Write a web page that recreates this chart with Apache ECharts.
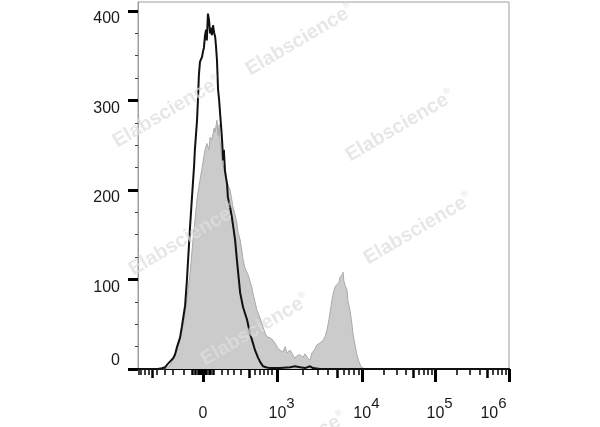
<!DOCTYPE html>
<html>
<head>
<meta charset="utf-8">
<script src="https://cdn.jsdelivr.net/npm/echarts@6/dist/echarts.min.js"></script>
<style>
html,body{margin:0;padding:0;background:#fff;}
#chart{width:600px;height:427px;}
</style>
</head>
<body>
<div id="chart"></div>
<script>
// Display channel scale (0-1024) of a biexponential axis
const blackCh = [0, 33, 55, 66, 75, 83, 88, 97, 102, 108, 116, 121, 130, 135, 138, 144, 149, 155, 157, 163, 166, 168, 171, 174, 177, 179, 182, 185, 188, 190, 193, 196, 199, 201, 204, 207, 210, 213, 215, 218, 221, 224, 226, 229, 232, 235, 237, 240, 246, 248, 254, 259, 265, 268, 273, 282, 290, 301, 309, 315, 323, 331, 337, 345, 353, 364, 392, 420, 433, 447, 461, 475, 483, 502, 1024];
const blackCount = [0, 0, 0, 1, 2, 6, 8, 12, 16, 25, 35, 47, 71, 99, 120, 161, 192, 228, 245, 278, 306, 328, 343, 345, 349, 354, 359, 373, 379, 367, 397, 390, 375, 381, 373, 384, 376, 371, 362, 345, 312, 300, 289, 273, 256, 233, 245, 222, 206, 192, 181, 170, 153, 144, 122, 85, 69, 55, 40, 32, 21, 13, 8, 3, 2, 1, 1, 2, 3, 2, 1, 3, 1, 0, 0];

const grayCh = [0, 75, 80, 88, 94, 102, 110, 116, 124, 130, 138, 144, 152, 157, 163, 171, 177, 185, 190, 196, 199, 204, 210, 213, 218, 221, 224, 226, 229, 232, 235, 240, 246, 254, 259, 262, 268, 273, 276, 282, 287, 290, 295, 304, 309, 315, 317, 323, 328, 337, 345, 351, 356, 364, 373, 381, 386, 392, 400, 406, 411, 420, 425, 433, 439, 447, 455, 461, 469, 475, 480, 486, 494, 502, 511, 516, 522, 527, 533, 538, 544, 549, 555, 557, 563, 566, 568, 571, 577, 579, 585, 591, 593, 599, 604, 610, 615, 621, 627, 1024];
const grayCount = [0, 0, 1, 4, 8, 15, 25, 33, 48, 62, 88, 108, 145, 165, 190, 211, 225, 245, 252, 245, 259, 256, 269, 265, 278, 261, 273, 256, 245, 233, 228, 217, 208, 200, 189, 181, 172, 163, 153, 144, 131, 122, 113, 105, 103, 90, 85, 75, 66, 57, 47, 40, 36, 35, 32, 27, 23, 21, 19, 25, 18, 21, 19, 12, 15, 16, 13, 17, 12, 10, 18, 21, 27, 29, 32, 36, 44, 55, 71, 83, 92, 94, 97, 102, 105, 108, 99, 94, 88, 77, 66, 49, 40, 27, 16, 8, 3, 1, 0, 0];

// Axis ticks (channel units) and labels
const xLabelCh = [179, 384, 618, 820, 1024];
const xLabelExp = ['', '3', '4', '5', '6'];
const xMajorTicks = [179, 384, 618, 820, 1024];
const xMediumTicks = [39, 306, 549, 759, 963];
const xMinorTicks = [2, 8, 19, 30, 52, 75, 97, 127,
  148, 152, 156, 160, 164, 168, 171, 174, 177, 181, 184, 187, 190, 194, 198, 202, 206, 210,
  232, 248, 265, 284, 323, 337, 348, 359, 370,
  455, 496, 525, 567, 582, 596, 608,
  679, 714, 740, 775, 789, 800, 811,
  881, 917, 943, 979, 992, 1004, 1015];
const yMajor = [0, 100, 200, 300, 400];
const yLabelTop = [100, 200, 300, 400];
const yMinor = [25, 50, 75, 125, 150, 175, 225, 250, 275, 325, 350, 375];

const watermarks = [[300, 40], [167, 112], [400, 126], [183, 240], [418, 229], [255, 330], [292, 448]];

const FONT = "'Liberation Sans', Arial, sans-serif";
const zip = (a, b) => a.map((v, i) => [v, b[i]]);

const chart = echarts.init(document.getElementById('chart'), null, {renderer: 'canvas'});

function xFmt(v) {
  const i = xLabelCh.indexOf(v);
  if (i < 0) return '';
  if (i === 0) return '{b|0}';
  if (i === xLabelCh.length - 1) return '{b|10}{s|' + xLabelExp[i] + '}{spr| }';
  return '{sp| }{b|10}{s|' + xLabelExp[i] + '}';
}

const baseX = {
  type: 'value', position: 'bottom', min: 0, max: 1024, gridIndex: 0,
  splitLine: {show: false}
};

const option = {
  animation: false,
  backgroundColor: '#fff',
  grid: {left: 138, top: 2, right: 91, bottom: 58, show: true, borderColor: '#9e9e9e', borderWidth: 1, containLabel: false},
  xAxis: [
    Object.assign({}, baseX, {
      axisLine: {show: true, lineStyle: {color: '#000', width: 2}},
      axisTick: {show: true, customValues: xMajorTicks, length: 13, lineStyle: {color: '#000', width: 3}},
      axisLabel: {
        show: true, customValues: xLabelCh, margin: 27, formatter: xFmt,
        rich: {
          b: {fontFamily: FONT, fontSize: 16, color: '#1a1a1a', lineHeight: 36},
          s: {fontFamily: FONT, fontSize: 15, color: '#1a1a1a', lineHeight: 16, verticalAlign: 'top'},
          sp: {width: 9, lineHeight: 16},
          spr: {width: 31, lineHeight: 16}
        }
      }
    }),
    Object.assign({}, baseX, {
      axisLine: {show: false},
      axisTick: {show: true, customValues: xMediumTicks, length: 9, lineStyle: {color: '#000', width: 2.5}},
      axisLabel: {show: false}
    }),
    Object.assign({}, baseX, {
      axisLine: {show: false},
      axisTick: {show: true, customValues: xMinorTicks, length: 6, lineStyle: {color: '#000', width: 1.5}},
      axisLabel: {show: false}
    })
  ],
  yAxis: [
    {
      type: 'value', position: 'left', min: 0, max: 410,
      splitLine: {show: false},
      axisLine: {show: true, lineStyle: {color: '#9e9e9e', width: 1}},
      axisTick: {show: true, customValues: yMajor, length: 10, lineStyle: {color: '#000', width: 3}},
      axisLabel: {show: true, customValues: yLabelTop, verticalAlign: 'top', margin: 18,
        fontFamily: FONT, fontSize: 16, color: '#1a1a1a'}
    },
    {
      type: 'value', position: 'left', min: 0, max: 410,
      splitLine: {show: false},
      axisLine: {show: false},
      axisTick: {show: true, customValues: yMinor, length: 3, lineStyle: {color: '#444', width: 1}},
      axisLabel: {show: true, customValues: [0], verticalAlign: 'bottom', margin: 18,
        fontFamily: FONT, fontSize: 16, color: '#1a1a1a'}
    }
  ],
  series: [
    {
      type: 'line', xAxisIndex: 0, yAxisIndex: 0, data: zip(grayCh, grayCount),
      showSymbol: false, symbol: 'none', z: 2,
      lineStyle: {color: '#a9a9a9', width: 1},
      areaStyle: {color: '#cbcbcb', opacity: 1}
    },
    {
      type: 'line', xAxisIndex: 0, yAxisIndex: 0, data: zip(blackCh, blackCount),
      showSymbol: false, symbol: 'none', z: 3,
      lineStyle: {color: '#111', width: 2}
    }
  ],
  graphic: watermarks.map(p => ({
    type: 'text', x: p[0], y: p[1], rotation: Math.PI * 30.5 / 180, z: 100, silent: true,
    style: {
      text: 'Elabscience{r|®}',
      font: 'bold 20px ' + FONT,
      fill: 'rgba(222,222,222,0.72)',
      align: 'center', verticalAlign: 'middle',
      rich: {r: {fontSize: 9, fontWeight: 'bold', fontFamily: FONT, fill: 'rgba(222,222,222,0.72)', verticalAlign: 'top', lineHeight: 22}}
    }
  }))
};
chart.setOption(option);
</script>
</body>
</html>
